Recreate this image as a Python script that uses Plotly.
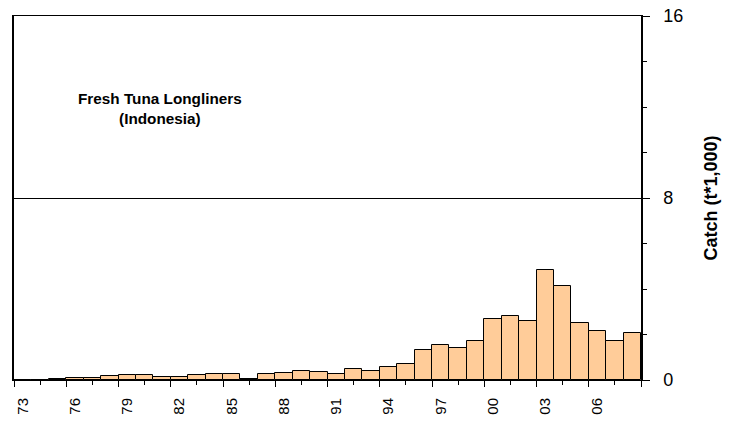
import plotly.graph_objects as go

years = list(range(1973, 2009))
catch = [0.0, 0.02, 0.06, 0.1, 0.1, 0.16, 0.2, 0.2, 0.15, 0.15, 0.2, 0.26,
         0.26, 0.05, 0.26, 0.32, 0.4, 0.34, 0.26, 0.48, 0.39, 0.58, 0.7, 1.3,
         1.52, 1.4, 1.71, 2.67, 2.83, 2.6, 4.83, 4.15, 2.5, 2.17, 1.7, 2.06]
tick_years = list(range(1973, 2007, 3))
tick_labels = ["73", "76", "79", "82", "85", "88", "91", "94", "97", "00", "03", "06"]
y_ticks = [0, 8, 16]

FONT = "Liberation Sans, Arial, sans-serif"

x0 = years[0] - 0.5
x1 = years[-1] + 0.5
major_bounds = [x0 + 3 * i for i in range(13)]
minor_bounds = [x0 + 1.5 + 3 * i for i in range(12)]

fig = go.Figure()
fig.add_trace(go.Bar(
    x=years, y=catch, width=1.0,
    marker=dict(color="#FFCC99", line=dict(color="black", width=1)),
    showlegend=False, hoverinfo="x+y",
))
fig.add_trace(go.Scatter(x=[x0, x1], y=[None, None], xaxis="x2", yaxis="y",
                         mode="lines", showlegend=False, hoverinfo="skip"))

fig.update_layout(
    width=723, height=413,
    margin=dict(l=6, r=90, t=8, b=41, autoexpand=False),
    paper_bgcolor="white", plot_bgcolor="white",
    font=dict(family=FONT, color="black"),
    bargap=0,
    xaxis=dict(
        range=[x0, x1], tickmode="array", tickvals=tick_years, ticktext=tick_labels,
        tickangle=-90, ticks="", ticklabelstandoff=11, automargin=False,
        ticklabeloverflow="allow",
        tickfont=dict(size=15, family=FONT, color="black"),
        showgrid=False, zeroline=False,
        showline=True, linecolor="black", linewidth=1, mirror=True,
    ),
    xaxis2=dict(
        range=[x0, x1], overlaying="x", anchor="y", side="bottom", automargin=False,
        tickmode="array", tickvals=major_bounds, ticks="outside", ticklen=6,
        tickcolor="black", tickwidth=1, showticklabels=False,
        minor=dict(tickmode="array", tickvals=minor_bounds, ticks="outside",
                   ticklen=4, tickcolor="black", tickwidth=1),
        showgrid=False, zeroline=False, showline=False,
    ),
    yaxis=dict(
        range=[0, 16], side="right", tickmode="array", tickvals=y_ticks,
        ticks="outside", ticklen=7, tickcolor="black", tickwidth=1,
        ticklabelstandoff=10, automargin=False, ticklabeloverflow="allow",
        tickfont=dict(size=18, family=FONT, color="black"),
        minor=dict(dtick=2, ticks="outside", ticklen=4, tickcolor="black", tickwidth=1),
        showgrid=True, gridcolor="black", gridwidth=1, zeroline=False,
        showline=True, linecolor="black", linewidth=1.5, mirror=True,
        title=dict(text="<b>Catch (t*1,000)</b>", standoff=22,
                   font=dict(size=18, family=FONT, color="black")),
    ),
    annotations=[dict(
        x=1980.9, y=11.95, xref="x", yref="y",
        text="<b>Fresh Tuna Longliners</b><br><b>(Indonesia)</b>",
        showarrow=False, align="center",
        font=dict(size=15.3, family=FONT, color="black"),
    )],
)

fig.write_html("out.html")
